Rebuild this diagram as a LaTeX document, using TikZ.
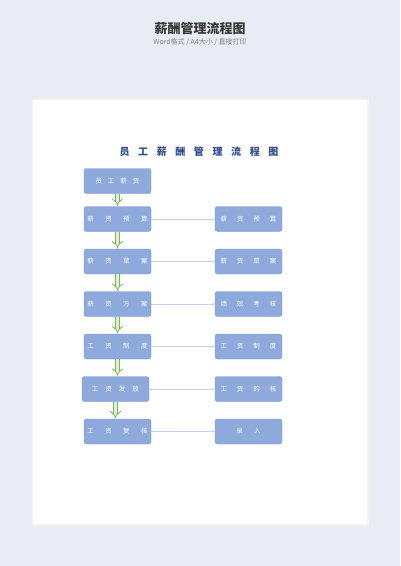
\documentclass[tikz,border=0pt]{standalone}
\usepackage{fontspec}
\setmainfont{Noto Sans CJK SC}
\usetikzlibrary{positioning, arrows.meta}
\definecolor{pagebg}{HTML}{E9ECF3}
\definecolor{boxfill}{HTML}{8EA9DB}
\definecolor{boxline}{HTML}{7995CC}
\definecolor{titleblue}{HTML}{2F4B8C}
\definecolor{linkblue}{HTML}{C3D5EE}
\definecolor{flowgreen}{HTML}{76B655}
\definecolor{flowfill}{HTML}{DDF0CF}
\makeatletter
\newcommand\spread[2]{\def\sp@sep{}\@tfor\sp@c:=#2\do{\sp@sep\sp@c\def\sp@sep{\hspace{#1}}}}
\makeatother

\begin{document}
\begin{tikzpicture}[x=1pt,y=-1pt,node distance=42.5pt and 131pt,on grid,
  stepbox/.style={draw=boxline,fill=boxfill,rounded corners=2.5pt,minimum width=67pt,
    minimum height=25pt,inner sep=0pt,text=white,font=\fontsize{6.5}{7}\selectfont},
  link/.style={draw=linkblue,line width=0.5pt,-{Straight Barb[length=2pt,width=3pt]}},
  flow/.style={draw=flowgreen,double=flowfill,double distance=3pt,line width=0.8pt,
    -{Implies},shorten >=0.5pt}]
\fill[pagebg] (0,0) rectangle (400,566);
\useasboundingbox (0,0) rectangle (400,566);
\fill[black!5] (31.5,98.5) rectangle (368.5,526);
\fill[white] (33,100) rectangle (367,524);

\node (head) at (200,29) {\fontsize{13}{15}\selectfont\bfseries\color{black!78}薪酬管理流程图};
\node (sub) at (200,42) {\fontsize{7}{8}\selectfont\color{black!50}Word格式 / A4大小 / 直接打印};
\node (title) at (199,152) {\fontsize{10}{12}\selectfont\bfseries\color{titleblue}\spread{8.6pt}{员工薪酬管理流程图}};

\node[stepbox] (s1) at (117.5,181) {\spread{6pt}{员工薪资}};
\node[stepbox] (s2) [below=38pt of s1] {\spread{11.5pt}{薪资预算}};
\node[stepbox] (s3) [below=of s2] {\spread{11.5pt}{薪资草案}};
\node[stepbox] (s4) [below=of s3] {\spread{11.5pt}{薪资方案}};
\node[stepbox] (s5) [below=of s4] {\spread{11.5pt}{工资制度}};
\node[stepbox] (s6) [below=of s5,xshift=-2pt] {\spread{7pt}{工资发放}};
\node[stepbox] (s7) [below=of s6,xshift=2pt] {\spread{11.5pt}{工资复核}};

\node[stepbox] (r2) [right=of s2] {\spread{10pt}{薪资预算}};
\node[stepbox] (r3) [right=of s3] {\spread{10pt}{薪资草案}};
\node[stepbox] (r4) [right=of s4] {\spread{10pt}{绩效考核}};
\node[stepbox] (r5) [right=of s5] {\spread{10pt}{工资制度}};
\node[stepbox] (r6) [below=of r5] {\spread{10pt}{工资的核}};
\node[stepbox] (r7) [below=of r6] {\spread{11.5pt}{录入}};

\foreach \a/\b in {s1/s2,s2/s3,s3/s4,s4/s5,s5/s6,s6/s7}
  \draw[flow] (\a.south) -- (\a.south |- \b.north);
\foreach \a/\b in {s2/r2,s3/r3,s4/r4,s5/r5,s6/r6,s7/r7}
  \draw[link] (\a) -- (\b);
\end{tikzpicture}
\end{document}
